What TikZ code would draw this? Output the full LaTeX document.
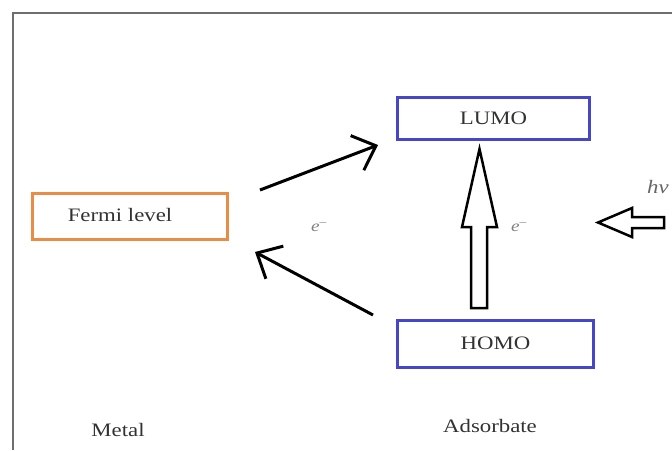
\documentclass[tikz,border=0pt]{standalone}
\usepackage{fontspec}
\setmainfont{Liberation Serif}
\usetikzlibrary{arrows.meta}
\definecolor{framegray}{RGB}{110,110,110}
\definecolor{boxblue}{RGB}{70,70,200}
\definecolor{boxorange}{RGB}{232,140,70}
\definecolor{txtgray}{RGB}{50,50,50}
\newcommand{\wide}[1]{\scalebox{1.2}[1]{#1}}
\begin{document}
\begin{tikzpicture}[x=1pt,y=-1pt,
  levelbox/.style={draw, line width=3pt, rectangle, inner sep=0pt, text=txtgray,
     font=\fontsize{19}{21}\selectfont},
  lbl/.style={text=txtgray, font=\fontsize{19}{21}\selectfont, inner sep=0pt},
  elbl/.style={text=black!50, font=\fontsize{16}{18}\selectfont\itshape, inner sep=0pt},
  barb/.style={line width=3pt, -{Straight Barb[length=20pt,width=37pt,line width=3pt]}},
  hollow/.style={draw, line width=2.5pt, fill=white, line join=miter}]
\useasboundingbox (0,0) rectangle (672,450);
\draw[framegray, line width=1.6pt] (13,450) -- (13,13) -- (672,13);

\node[levelbox, draw=boxorange, minimum width=195pt, minimum height=46pt] (fermi) at (130,216) {};
\node[lbl] (fermitext) at (120,215) {\wide{Fermi level}};
\node[levelbox, draw=boxblue, minimum width=192pt, minimum height=42pt] (lumo) at (493.5,118) {\wide{LUMO}};
\node[levelbox, draw=boxblue, minimum width=196pt, minimum height=47pt] (homo) at (495.5,343.5) {\wide{HOMO}};

\node[lbl] (metal) at (118,430) {\wide{Metal}};
\node[lbl] (adsorbate) at (490,426) {\wide{Adsorbate}};

\node[elbl] (e1) at (319,227) {\wide{e\textsuperscript{--}}};
\node[elbl] (e2) at (519,227) {\wide{e\textsuperscript{--}}};
\node[elbl, text=black!60, font=\fontsize{19}{21}\selectfont\itshape] (hv) at (658,187) {\wide{hν}};

\coordinate (a1s) at (260,190);
\coordinate (a1e) at (378,145);
\coordinate (a2s) at (373,315);
\coordinate (a2e) at (255,252);
\draw[barb] (a1s) -- (a1e);
\draw[barb] (a2s) -- (a2e);

% hollow vertical arrow HOMO -> LUMO
\draw[hollow] (471,308) -- (471,227) -- (462,227) -- (479.5,149) -- (497,227) -- (487,227) -- (487,308) -- cycle;
% hollow arrow for light
\draw[hollow] (598,222.5) -- (632,208) -- (632,217) -- (664,217) -- (664,228) -- (632,228) -- (632,237) -- cycle;
\end{tikzpicture}
\end{document}
